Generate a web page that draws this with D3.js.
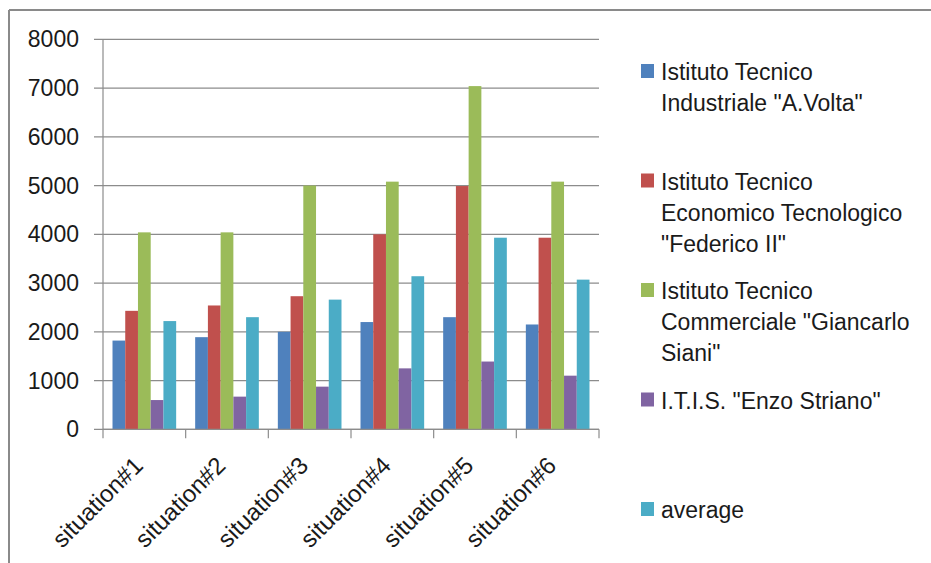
<!DOCTYPE html>
<html>
<head>
<meta charset="utf-8">
<script src="https://cdn.jsdelivr.net/npm/d3@7"></script>
<style>
  html, body { margin: 0; padding: 0; background: #fff; }
  svg { display: block; }
  text { font-family: "Liberation Sans", Arial, sans-serif; fill: #1a1a1a; }
</style>
</head>
<body>
<svg id="chart" width="931" height="563"></svg>
<script>
const categories = ["situation#1", "situation#2", "situation#3", "situation#4", "situation#5", "situation#6"];
const seriesNames = [
  ["Istituto Tecnico", "Industriale \"A.Volta\""],
  ["Istituto Tecnico", "Economico Tecnologico", "\"Federico II\""],
  ["Istituto Tecnico", "Commerciale \"Giancarlo", "Siani\""],
  ["I.T.I.S. \"Enzo Striano\""],
  ["average"]
];
const seriesColors = ["#4F81BD", "#C0504D", "#9BBB59", "#8064A2", "#4BACC6"];
const voltaValues    = [1820, 1890, 2000, 2200, 2300, 2150];
const federicoValues = [2430, 2540, 2730, 4000, 4990, 3930];
const sianiValues    = [4040, 4040, 5000, 5080, 7040, 5080];
const strianoValues  = [600, 670, 875, 1250, 1390, 1100];
const averageValues  = [2220, 2300, 2660, 3140, 3930, 3070];
const yTicks = [0, 1000, 2000, 3000, 4000, 5000, 6000, 7000, 8000];

const seriesValues = [voltaValues, federicoValues, sianiValues, strianoValues, averageValues];

const svg = d3.select("#chart");
const fontSize = 23;

// chart border (only top and left visible)
svg.append("line").attr("x1", 9).attr("x2", 931).attr("y1", 10).attr("y2", 10)
  .attr("stroke", "#8a8a8a").attr("stroke-width", 2);
svg.append("line").attr("x1", 9).attr("x2", 9).attr("y1", 10).attr("y2", 563)
  .attr("stroke", "#8a8a8a").attr("stroke-width", 2);

const plotLeft = 103, plotRight = 599, plotTop = 39.3, plotBottom = 429.3;

const y = d3.scaleLinear().domain([0, 8000]).range([plotBottom, plotTop]);
const x0 = d3.scaleBand().domain(categories).range([plotLeft, plotRight])
  .paddingInner(0.23).paddingOuter(0.115);
const x1 = d3.scaleBand().domain(d3.range(seriesValues.length)).range([0, x0.bandwidth()]).padding(0);
const step = x0.step();

// gridlines + y ticks
const gridG = svg.append("g");
yTicks.forEach(t => {
  gridG.append("line")
    .attr("x1", plotLeft - 9).attr("x2", plotRight)
    .attr("y1", y(t)).attr("y2", y(t))
    .attr("stroke", "#8c8c8c").attr("stroke-width", 1.2);
  gridG.append("text")
    .attr("x", 79).attr("y", y(t) + 8)
    .attr("text-anchor", "end")
    .attr("font-size", fontSize)
    .text(t);
});

// y axis line
svg.append("line").attr("x1", plotLeft).attr("x2", plotLeft)
  .attr("y1", plotTop).attr("y2", plotBottom + 9)
  .attr("stroke", "#8c8c8c").attr("stroke-width", 1.2);

// bars
const barG = svg.append("g");
categories.forEach((c, ci) => {
  seriesValues.forEach((vals, si) => {
    barG.append("rect")
      .attr("x", x0(c) + x1(si))
      .attr("y", y(vals[ci]))
      .attr("width", x1.bandwidth())
      .attr("height", y(0) - y(vals[ci]))
      .attr("fill", seriesColors[si]);
  });
});

// x axis line and ticks at category boundaries
svg.append("line").attr("x1", plotLeft).attr("x2", plotRight)
  .attr("y1", plotBottom).attr("y2", plotBottom)
  .attr("stroke", "#8c8c8c").attr("stroke-width", 1.2);
categories.forEach((c, ci) => {
  const bx = x0(c) - x0.step() * x0.paddingOuter() + step;
  svg.append("line").attr("x1", bx).attr("x2", bx)
    .attr("y1", plotBottom).attr("y2", plotBottom + 9)
    .attr("stroke", "#8c8c8c").attr("stroke-width", 1.2);
});

// x labels rotated
categories.forEach(c => {
  const cx = x0(c) + x0.bandwidth() / 2;
  const ax = cx, ay = 467;
  svg.append("text")
    .attr("transform", `translate(${ax},${ay}) rotate(-45)`)
    .attr("text-anchor", "end")
    .attr("font-size", 24)
    .text(c);
});

// legend
const legendG = svg.append("g");
seriesNames.forEach((lines, i) => {
  const cy = 71 + i * 109.5;
  legendG.append("rect")
    .attr("x", 641).attr("y", cy - 7).attr("width", 13).attr("height", 14)
    .attr("fill", seriesColors[i]);
  lines.forEach((ln, li) => {
    legendG.append("text")
      .attr("x", 661).attr("y", cy + 9 + li * 31)
      .attr("font-size", fontSize)
      .text(ln);
  });
});
</script>
</body>
</html>
